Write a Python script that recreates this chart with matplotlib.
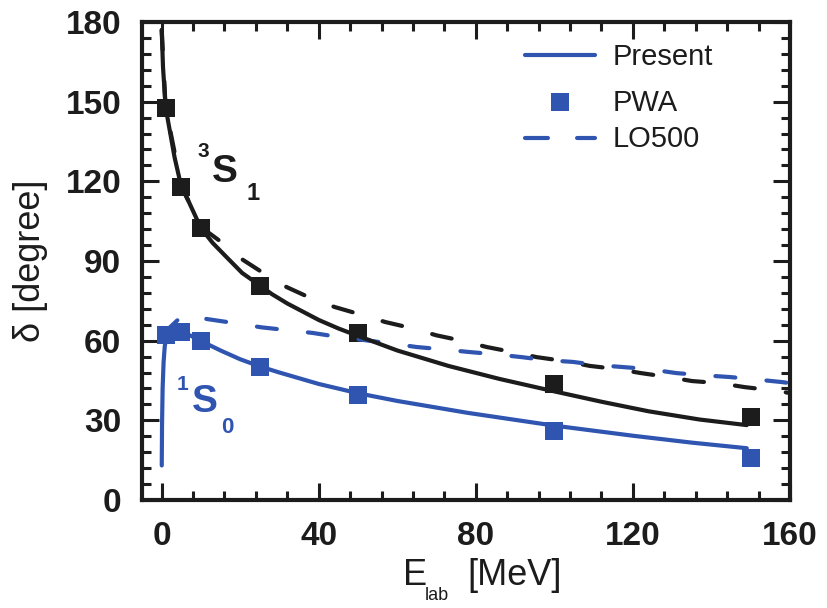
import matplotlib
matplotlib.use("Agg")
import matplotlib.pyplot as plt
from matplotlib.ticker import MultipleLocator

# ---------------- data ----------------
E_pwa = [1, 5, 10, 25, 50, 100, 150]
pwa_3s1 = [147.6, 117.8, 102.4, 80.6, 62.9, 43.5, 31.4]
pwa_1s0 = [62.0, 63.2, 59.9, 50.1, 39.6, 25.8, 16.0]

E_pres_3s1 = [0.02, 0.35, 1, 1.6, 3.3, 5, 6.7, 10, 13, 16.5, 20.5, 25, 28, 32,
              40, 45, 50, 60, 73, 86, 100, 112, 124, 137, 149]
pres_3s1 = [177, 163, 148, 143, 129, 118, 113, 102.4, 96.8, 91.5, 85.5, 80.8,
            77.6, 74, 67.8, 64.6, 61.8, 56.3, 50.5, 45.6, 40.9, 37, 33.4, 30.3,
            28.2]

E_pres_1s0 = [0.03, 0.1, 0.25, 0.5, 0.8, 1.3, 2.5, 5, 7.5, 10, 15, 20, 25, 30,
              40, 50, 60, 78, 100, 120, 135, 149]
pres_1s0 = [13, 28, 42, 52, 58, 62, 63.5, 63.4, 61.8, 59.9, 56.3, 53, 50.3, 48,
            43.7, 40.2, 37.3, 32.8, 28.0, 24.2, 21.6, 19.5]

E_lo_3s1 = [0.02, 1, 5, 10, 15.5, 20, 26.7, 31.8, 38, 44, 51, 57, 63.7, 70,
            76.7, 82.8, 89.4, 95.5, 102.7, 109, 116, 122, 129, 135, 142,
            148.5, 155, 160]
lo_3s1 = [177, 148, 118.3, 102.8, 96.8, 91.1, 84.7, 80.2, 76, 72.7, 69.7, 67,
          64.7, 62, 59.9, 57.6, 55.7, 53.8, 52.3, 50.5, 49.3, 47.8, 46.3, 44.8,
          44, 42.5, 41.4, 40.3]

E_lo_1s0 = [0.3, 5.4, 12.2, 18.6, 25.5, 31.8, 38.5, 45, 51.7, 58, 65, 71, 78.5,
            84, 91.7, 97.6, 104.7, 111, 118, 124, 131, 137.6, 144.7, 150.6,
            158, 160]
lo_1s0 = [62.5, 69.6, 68, 66.6, 65, 64, 62.9, 61.4, 60.2, 59, 57.6, 56.8, 55.7,
          55, 53.8, 52.7, 52, 50.8, 50, 49.3, 47.8, 47, 46.3, 45.5, 44.4, 44]

x_ticks = [0, 40, 80, 120, 160]
y_ticks = [0, 30, 60, 90, 120, 150, 180]
legend_labels = ["Present", "PWA", "LO500"]

# ---------------- style ----------------
plt.rcParams['font.family'] = ['Liberation Sans', 'DejaVu Sans']
BLACK = '#1c1c1c'
BLUE = '#2f55b1'
LW = 3.0
DASH = (4.8, 7.5)

W, H = 827, 608
fig = plt.figure(figsize=(W / 100, H / 100), dpi=100)
ax = fig.add_axes([142 / W, 1 - 500 / H, 648 / W, 478 / H])


def fx(px):
    return px / W


def fy(py):
    return 1 - py / H


# PWA squares (below lines)
ax.plot(E_pwa, pwa_3s1, 's', color=BLACK, ms=12.5, mew=0, zorder=2)
ax.plot(E_pwa, pwa_1s0, 's', color=BLUE, ms=12.5, mew=0, zorder=2)

# LO500 dashed
ax.plot(E_lo_3s1, lo_3s1, color=BLACK, lw=LW, ls=(0, DASH),
        dash_capstyle='round', zorder=3)
ax.plot(E_lo_1s0, lo_1s0, color=BLUE, lw=LW, ls=(0, DASH),
        dash_capstyle='round', zorder=3)

# Present solid
ax.plot(E_pres_3s1, pres_3s1, color=BLACK, lw=LW, solid_capstyle='round',
        solid_joinstyle='round', zorder=4)
ax.plot(E_pres_1s0, pres_1s0, color=BLUE, lw=LW, solid_capstyle='round',
        solid_joinstyle='round', zorder=4)

ax.set_xlim(-5, 160)
ax.set_ylim(0, 180)
ax.set_xticks(x_ticks)
ax.set_yticks(y_ticks)
ax.xaxis.set_minor_locator(MultipleLocator(8))
ax.yaxis.set_minor_locator(MultipleLocator(6))
ax.tick_params(which='both', direction='in', top=True, right=True,
               width=2.2, color=BLACK)
ax.tick_params(which='major', length=12, labelsize=24, pad=15,
               labelcolor=BLACK)
ax.tick_params(which='minor', length=6.5)
for lbl in ax.get_xticklabels() + ax.get_yticklabels():
    lbl.set_fontweight('bold')
for sp in ax.spines.values():
    sp.set_linewidth(3)
    sp.set_color(BLACK)

ax.set_ylabel('δ [degree]', fontsize=26, color=BLACK)
ax.yaxis.set_label_coords(-0.145, 0.5)

# x label: E_lab [MeV]
fig.text(fx(403), fy(585), 'E', fontsize=26, va='baseline', ha='left',
         color=BLACK)
fig.text(fx(425), fy(600), 'lab', fontsize=13, va='baseline', ha='left',
         color=BLACK)
fig.text(fx(467), fy(585), '[MeV]', fontsize=26, va='baseline', ha='left',
         color=BLACK)

# channel labels
fig.text(fx(198), fy(157), '3', fontsize=15, fontweight='bold',
         va='baseline', ha='left', color=BLACK)
fig.text(fx(212), fy(182), 'S', fontsize=28, fontweight='bold',
         va='baseline', ha='left', color=BLACK)
fig.text(fx(246), fy(200), '1', fontsize=17, fontweight='bold',
         va='baseline', ha='left', color=BLACK)

fig.text(fx(177), fy(390), '1', fontsize=15, fontweight='bold',
         va='baseline', ha='left', color=BLUE)
fig.text(fx(192), fy(412), 'S', fontsize=28, fontweight='bold',
         va='baseline', ha='left', color=BLUE)
fig.text(fx(221), fy(433), '0', fontsize=16, fontweight='bold',
         va='baseline', ha='left', color=BLUE)

# legend (manual)
tf = fig.transFigure
ax.plot([fx(525), fx(595)], [fy(55), fy(55)], color=BLUE, lw=LW,
        solid_capstyle='round', transform=tf, clip_on=False)
ax.plot([fx(560)], [fy(102)], 's', color=BLUE, ms=13, mew=0,
        transform=tf, clip_on=False)
ax.plot([fx(525), fx(595)], [fy(138), fy(138)], color=BLUE, lw=LW,
        ls=(0, (5.5, 7.0)), dash_capstyle='round', transform=tf,
        clip_on=False)
for lab, yy in zip(legend_labels, [57, 103, 139]):
    fig.text(fx(613), fy(yy), lab, fontsize=21, va='center', ha='left',
             color=BLACK)

fig.savefig('out.png', dpi=100)
